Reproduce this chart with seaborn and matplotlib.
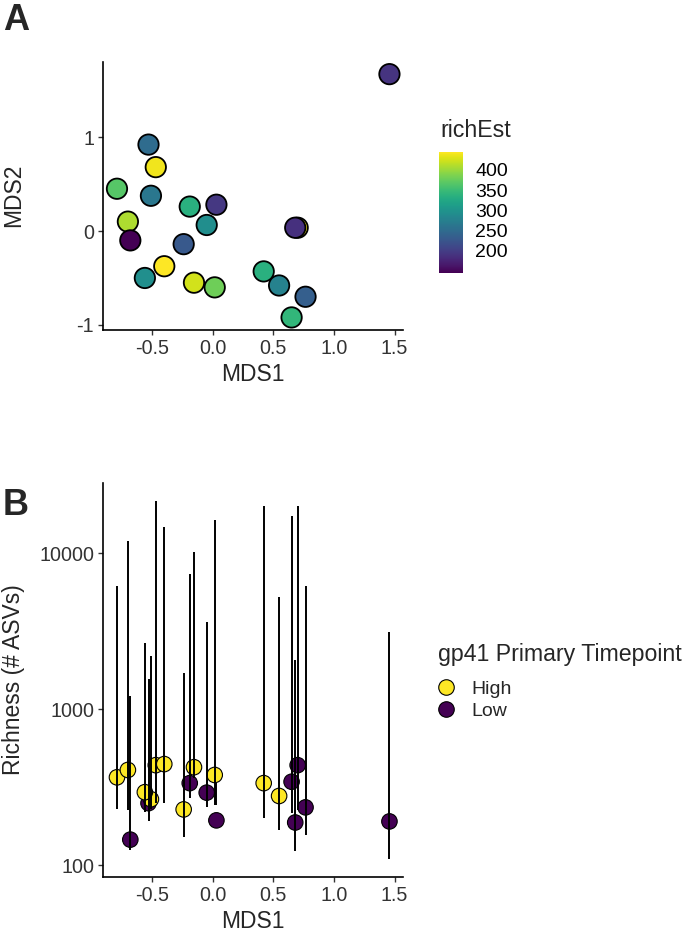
import numpy as np
import pandas as pd
import seaborn as sns
import matplotlib.pyplot as plt
import matplotlib as mpl
from matplotlib.ticker import FixedLocator, NullLocator

# sample ordination + richness estimates
mds1 = [-0.79, -0.70, -0.68, -0.53, -0.47, -0.51, -0.56, -0.40, -0.24, -0.19, -0.155,
        -0.05, 0.03, 0.016, 0.42, 0.547, 0.65, 0.70, 0.68, 0.765, 1.457]
mds2 = [0.45, 0.10, -0.10, 0.92, 0.68, 0.375, -0.50, -0.375, -0.14, 0.26, -0.55,
        0.064, 0.28, -0.60, -0.43, -0.58, -0.92, 0.035, 0.035, -0.70, 1.67]
rich_est = [366, 408, 146, 250, 438, 265, 294, 445, 228, 336, 425,
            292, 194, 379, 336, 278, 343, 438, 188, 235, 191]
timepoint = ["High", "High", "Low", "Low", "High", "High", "High", "High", "High", "Low", "High",
             "Low", "Low", "High", "High", "High", "Low", "Low", "Low", "Low", "Low"]
ci_lower = [228, 226, 125, 191, 250, 230, 221, 250, 151, 270, 360,
            238, 245, 244, 200, 168, 215, 227, 124, 156, 110]
ci_upper = [6110, 11870, 1217, 1556, 21700, 2197, 2673, 14670, 1702, 7330, 10150,
            3630, 335, 16340, 20100, 5270, 17170, 20100, 2070, 6110, 3100]

df = pd.DataFrame({"MDS1": mds1, "MDS2": mds2, "richEst": rich_est,
                   "tp": timepoint, "lower": ci_lower, "upper": ci_upper})

sns.set_style("ticks")
plt.rcParams["font.family"] = ["Liberation Sans", "DejaVu Sans"]
tick_col = "#333333"

fig = plt.figure(figsize=(6.89, 9.39), dpi=100)
axA = fig.add_axes([0.150, 0.649, 0.435, 0.285])
axB = fig.add_axes([0.150, 0.0663, 0.435, 0.4197])

# ---- panel A: NMDS coloured by richness
vmin, vmax = df["richEst"].min(), df["richEst"].max()
norm = mpl.colors.Normalize(vmin=vmin, vmax=vmax)
sns.scatterplot(data=df, x="MDS1", y="MDS2", hue="richEst", palette="viridis",
                hue_norm=norm, s=215, edgecolor="black", linewidth=1.3,
                legend=False, ax=axA)
axA.set_yticks([-1, 0, 1])
axA.set_yticklabels(["-1", "0", "1"])

# ---- panel B: richness with intervals
sns.scatterplot(data=df, x="MDS1", y="richEst", hue="tp", hue_order=["High", "Low"],
                palette={"High": "#FDE725", "Low": "#440154"}, s=125,
                edgecolor="black", linewidth=0.8, ax=axB, zorder=2)
axB.vlines(df["MDS1"], df["lower"], df["upper"], color="black", lw=1.4, zorder=3)
axB.set_yscale("log")
axB.yaxis.set_major_locator(FixedLocator([100, 1000, 10000]))
axB.yaxis.set_minor_locator(NullLocator())
axB.set_yticklabels(["100", "1000", "10000"])

for ax, ylab in [(axA, "MDS2"), (axB, "Richness (# ASVs)")]:
    ax.set_xticks([-0.5, 0.0, 0.5, 1.0, 1.5])
    ax.set_xticklabels(["-0.5", "0.0", "0.5", "1.0", "1.5"])
    ax.set_xlabel("MDS1", fontsize=16.5, labelpad=4)
    ax.set_ylabel(ylab, fontsize=16.5)
    ax.yaxis.set_label_coords(-0.26, 0.5)
    ax.tick_params(labelsize=14.2, colors=tick_col, length=3.6, width=1.0, pad=3)
    for s in ["left", "bottom"]:
        ax.spines[s].set_linewidth(1.2)
        ax.spines[s].set_color("black")
    sns.despine(ax=ax)

# colourbar legend for A
cax = fig.add_axes([0.637, 0.7096, 0.0344, 0.1289])
cb = fig.colorbar(mpl.cm.ScalarMappable(norm=norm, cmap="viridis"), cax=cax)
cb.outline.set_visible(False)
cb.set_ticks([200, 250, 300, 350, 400])
cax.yaxis.set_ticks_position("both")
cax.tick_params(direction="in", color="white", length=4.5, width=0.8,
                labelsize=14, labelcolor="black", pad=9, labelleft=False, labelright=True)
fig.text(0.6386, 0.8605, "richEst", fontsize=16.7, va="center", ha="left")

# discrete legend for B
sns.move_legend(axB, "upper left", bbox_to_anchor=(1.085, 0.617), frameon=False,
                title="gp41 Primary Timepoint", title_fontsize=16.7, fontsize=14,
                handlelength=0.8, handletextpad=0.9, labelspacing=0.25, borderpad=0)
leg = axB.get_legend()
leg._legend_box.align = "left"
leg._legend_box.sep = 10

fig.text(0.004, 0.997, "A", fontsize=26, fontweight="bold", va="top", ha="left")
fig.text(0.004, 0.480, "B", fontsize=26, fontweight="bold", va="top", ha="left")

fig.savefig("out.png", dpi=100)
